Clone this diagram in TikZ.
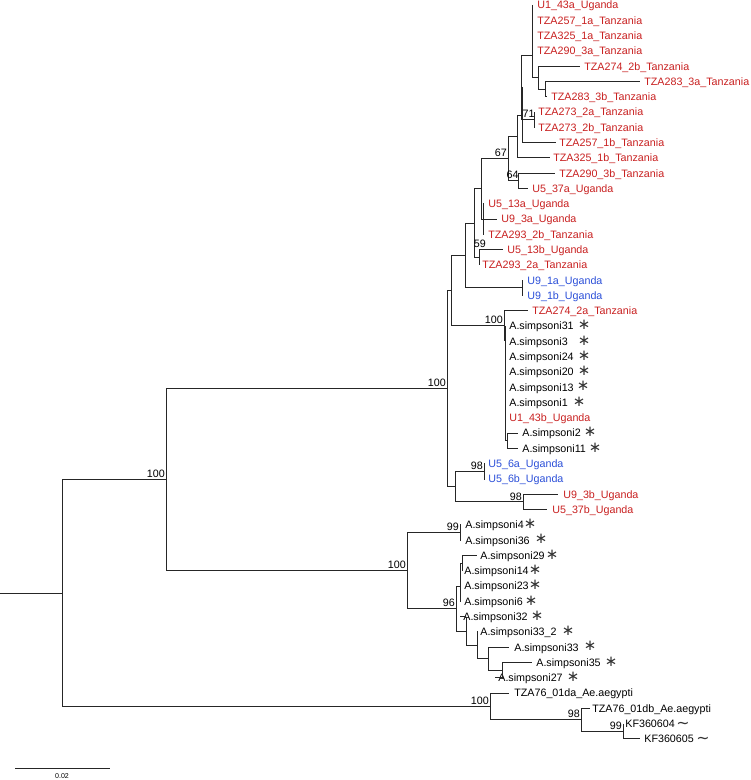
\documentclass[tikz,border=0pt]{standalone}
\usepackage{fontspec}
\setmainfont{Liberation Sans}
\newfontfamily\symfont{DejaVu Sans}
\usepackage{tikz}
\usetikzlibrary{calc}
\definecolor{tred}{HTML}{C82020}
\definecolor{tblue}{HTML}{2B4FD8}

\tikzset{
  br/.style={line width=0.55pt, black!85},
  lab/.style={anchor=west, inner sep=0pt, text height=4.4pt, text depth=0pt,
    font=\fontsize{6.1}{7}\selectfont},
  bs/.style={anchor=south east, inner sep=0.5pt, font=\fontsize{6.1}{7}\selectfont},
  ast/.style={anchor=base, inner sep=0pt, text=black!80, font=\symfont\fontsize{8.5}{9}\selectfont},
  tld/.style={anchor=base, inner sep=0pt, text=black!80, font=\symfont\fontsize{9}{9}\selectfont},
}

% leaf: number, row, tip x, label x, colour, text
\newcommand\leaf[6]{%
  \coordinate (t#1) at (#3,{5+(#2-1)*15.29});
  \node[lab, text=#5] (l#1) at (#4,{5+(#2-1)*15.29}) {#6};}
% clade: node, first child, last child, all children
\newcommand\clade[4]{%
  \draw[br] (#1 |- #2) -- (#1 |- #3);
  \foreach \c in {#4} {\draw[br] (#1 |- \c) -- (\c);}}
% star after a sample: row, x
\newcommand\starmark[2]{\node[ast] (s#1) at (#2,{5+(#1-1)*15.29+3.7}) {∗};}

\begin{document}
\begin{tikzpicture}[x=0.02cm, y=-0.02cm]
\useasboundingbox (0,0) rectangle (750,780);

% leaves
\leaf{1}{1}{533}{537}{tred}{U1\_43a\_Uganda}
\leaf{2}{2}{533}{537}{tred}{TZA257\_1a\_Tanzania}
\leaf{3}{3}{533}{537}{tred}{TZA325\_1a\_Tanzania}
\leaf{4}{4}{533}{537}{tred}{TZA290\_3a\_Tanzania}
\leaf{5}{5}{580}{584}{tred}{TZA274\_2b\_Tanzania}
\leaf{6}{6}{640}{644}{tred}{TZA283\_3a\_Tanzania}
\leaf{7}{7}{547}{551}{tred}{TZA283\_3b\_Tanzania}
\leaf{8}{8}{535}{538}{tred}{TZA273\_2a\_Tanzania}
\leaf{9}{9}{535}{538}{tred}{TZA273\_2b\_Tanzania}
\leaf{10}{10}{556}{559}{tred}{TZA257\_1b\_Tanzania}
\leaf{11}{11}{550}{553}{tred}{TZA325\_1b\_Tanzania}
\leaf{12}{12}{555}{559}{tred}{TZA290\_3b\_Tanzania}
\leaf{13}{13}{528}{532}{tred}{U5\_37a\_Uganda}
\leaf{14}{14}{484}{488}{tred}{U5\_13a\_Uganda}
\leaf{15}{15}{497}{501}{tred}{U9\_3a\_Uganda}
\leaf{16}{16}{484}{488}{tred}{TZA293\_2b\_Tanzania}
\leaf{17}{17}{503}{507}{tred}{U5\_13b\_Uganda}
\leaf{18}{18}{480}{482}{tred}{TZA293\_2a\_Tanzania}
\leaf{19}{19}{523}{527}{tblue}{U9\_1a\_Uganda}
\leaf{20}{20}{523}{527}{tblue}{U9\_1b\_Uganda}
\leaf{21}{21}{528}{532}{tred}{TZA274\_2a\_Tanzania}
\leaf{22}{22}{506}{509}{black}{A.simpsoni31}
\leaf{23}{23}{506}{509}{black}{A.simpsoni3}
\leaf{24}{24}{506}{509}{black}{A.simpsoni24}
\leaf{25}{25}{506}{509}{black}{A.simpsoni20}
\leaf{26}{26}{506}{509}{black}{A.simpsoni13}
\leaf{27}{27}{506}{509}{black}{A.simpsoni1}
\leaf{28}{28}{506}{509}{tred}{U1\_43b\_Uganda}
\leaf{29}{29}{518}{522}{black}{A.simpsoni2}
\leaf{30}{30}{518}{522}{black}{A.simpsoni11}
\leaf{31}{31}{485}{488}{tblue}{U5\_6a\_Uganda}
\leaf{32}{32}{485}{488}{tblue}{U5\_6b\_Uganda}
\leaf{33}{33}{558}{563}{tred}{U9\_3b\_Uganda}
\leaf{34}{34}{547}{552}{tred}{U5\_37b\_Uganda}
\leaf{35}{35}{461}{465}{black}{A.simpsoni4}
\leaf{36}{36}{461}{465}{black}{A.simpsoni36}
\leaf{37}{37}{477}{480}{black}{A.simpsoni29}
\leaf{38}{38}{462}{464}{black}{A.simpsoni14}
\leaf{39}{39}{461}{464}{black}{A.simpsoni23}
\leaf{40}{40}{461}{464}{black}{A.simpsoni6}
\leaf{41}{41}{460}{463}{black}{A.simpsoni32}
\leaf{42}{42}{478}{480}{black}{A.simpsoni33\_2}
\leaf{43}{43}{509}{514}{black}{A.simpsoni33}
\leaf{44}{44}{532}{536}{black}{A.simpsoni35}
\leaf{45}{45}{495}{498}{black}{A.simpsoni27}
\leaf{46}{46}{509}{514}{black}{TZA76\_01da\_Ae.aegypti}
\leaf{47}{47}{590}{592}{black}{TZA76\_01db\_Ae.aegypti}
\leaf{48}{48}{623}{625}{black}{KF360604}
\leaf{49}{49}{640}{644}{black}{KF360605}

% inner nodes
\coordinate (nC) at (545,89.1);
\coordinate (nB) at (538,77.6);
\coordinate (nA) at (532,55);
\coordinate (n71) at (534,119.7);
\coordinate (nF) at (521,87);
\coordinate (nE) at (522,115);
\coordinate (nD) at (517,136.4);
\coordinate (n64) at (518,180.8);
\coordinate (n67) at (508,158.6);
\coordinate (nG) at (483,219.1);
\coordinate (nI) at (481,188.8);
\coordinate (n59) at (479,257.3);
\coordinate (nJ) at (474,223);
\coordinate (nU91) at (522,287.9);
\coordinate (nK) at (465,255.4);
\coordinate (nN) at (507,440.8);
\coordinate (nM) at (505,340);
\coordinate (nL) at (504,325.4);
\coordinate (nP) at (451,290.4);
\coordinate (nU56) at (484,471.3);
\coordinate (n98b) at (523,501.9);
\coordinate (nR) at (455,486.6);
\coordinate (nQ) at (447,388.5);
\coordinate (n99a) at (460,532.5);
\coordinate (nT) at (462,563.1);
\coordinate (nS) at (460,586);
\coordinate (nY) at (502,670.1);
\coordinate (nX) at (488,658.6);
\coordinate (nW) at (477,645.3);
\coordinate (nV) at (466,631);
\coordinate (n96) at (456,608.5);
\coordinate (n100b) at (407,570.5);
\coordinate (nTop) at (166,479.5);
\coordinate (n99c) at (623,731.3);
\coordinate (n98c) at (581,719.8);
\coordinate (nAe) at (490,706.4);
\coordinate (root) at (62,593);
\coordinate (base) at (0,593);

% branches
\clade{nC}{t6}{t7}{t6,t7}
\clade{nB}{t5}{nC}{t5,nC}
\clade{nA}{t1}{nB}{t1,t2,t3,t4,nB}
\clade{n71}{t8}{t9}{t8,t9}
\clade{nF}{nA}{n71}{nA,n71}
\clade{nE}{nF}{t10}{nF,t10}
\clade{nD}{nE}{t11}{nE,t11}
\clade{n64}{t12}{t13}{t12,t13}
\clade{n67}{nD}{n64}{nD,n64}
\clade{nG}{t14}{t16}{t14,t15,t16}
\clade{nI}{n67}{nG}{n67,nG}
\clade{n59}{t17}{t18}{t17,t18}
\clade{nJ}{nI}{n59}{nI,n59}
\clade{nU91}{t19}{t20}{t19,t20}
\clade{nK}{nJ}{nU91}{nJ,nU91}
\clade{nN}{t29}{t30}{t29,t30}
\clade{nM}{t22}{nN}{t22,t23,t24,t25,t26,t27,t28,nN}
\clade{nL}{t21}{nM}{t21,nM}
\clade{nP}{nK}{nL}{nK,nL}
\clade{nU56}{t31}{t32}{t31,t32}
\clade{n98b}{t33}{t34}{t33,t34}
\clade{nR}{nU56}{n98b}{nU56,n98b}
\clade{nQ}{nP}{nR}{nP,nR}
\clade{n99a}{t35}{t36}{t35,t36}
\clade{nT}{t37}{t38}{t37,t38}
\clade{nS}{nT}{t40}{nT,t39,t40}
\clade{nY}{t44}{t45}{t44,t45}
\clade{nX}{t43}{nY}{t43,nY}
\clade{nW}{t42}{nX}{t42,nX}
\clade{nV}{t41}{nW}{t41,nW}
\clade{n96}{nS}{nV}{nS,nV}
\clade{n100b}{n99a}{n96}{n99a,n96}
\clade{nTop}{nQ}{n100b}{nQ,n100b}
\clade{n99c}{t48}{t49}{t48,t49}
\clade{n98c}{t47}{n99c}{t47,n99c}
\clade{nAe}{t46}{n98c}{t46,n98c}
\clade{root}{nTop}{nAe}{nTop,nAe}
\draw[br] (base) -- (root);

% bootstrap values
\node[bs] (b71) at ([xshift=1pt,yshift=0.6pt]n71) {71};
\node[bs] (b67) at ([yshift=0.6pt]n67) {67};
\node[bs] (b64) at ([xshift=1pt,yshift=0.6pt]n64) {64};
\node[bs] (b59) at (487,249) {59};
\node[bs] (b100a) at ([yshift=0.3pt]nL) {100};
\node[bs] (b100b) at ([yshift=0.6pt]nQ) {100};
\node[bs] (b98a) at ([yshift=0.3pt]nU56) {98};
\node[bs] (b98b) at ([yshift=0.3pt]n98b) {98};
\node[bs] (b99a) at ([yshift=0.6pt]n99a) {99};
\node[bs] (b96) at ([yshift=0.3pt]n96) {96};
\node[bs] (b100c) at ([yshift=0.3pt]n100b) {100};
\node[bs] (b100d) at ([yshift=0.3pt]nTop) {100};
\node[bs] (b100e) at ([yshift=0.3pt]nAe) {100};
\node[bs] (b98c) at ([yshift=0.3pt]n98c) {98};
\node[bs] (b99c) at ([yshift=0.3pt]n99c) {99};

% stars and tildes
\starmark{22}{584}
\starmark{23}{584}
\starmark{24}{584}
\starmark{25}{584}
\starmark{26}{583}
\starmark{27}{579}
\starmark{29}{590}
\starmark{30}{595}
\starmark{35}{530}
\starmark{36}{541}
\starmark{37}{552}
\starmark{38}{535}
\starmark{39}{535}
\starmark{40}{531}
\starmark{41}{537}
\starmark{42}{568}
\starmark{43}{590}
\starmark{44}{611}
\starmark{45}{573}
\node[tld] (w48) at (683,728) {∼};
\node[tld] (w49) at (703,743.3) {∼};

% scale bar
\coordinate (sb1) at (15,768);
\coordinate (sb2) at (110,768);
\draw[br] (sb1) -- (sb2);
\node[inner sep=0pt, font=\fontsize{4}{4}\selectfont] (sbl) at (62,776) {0.02};
\end{tikzpicture}
\end{document}
